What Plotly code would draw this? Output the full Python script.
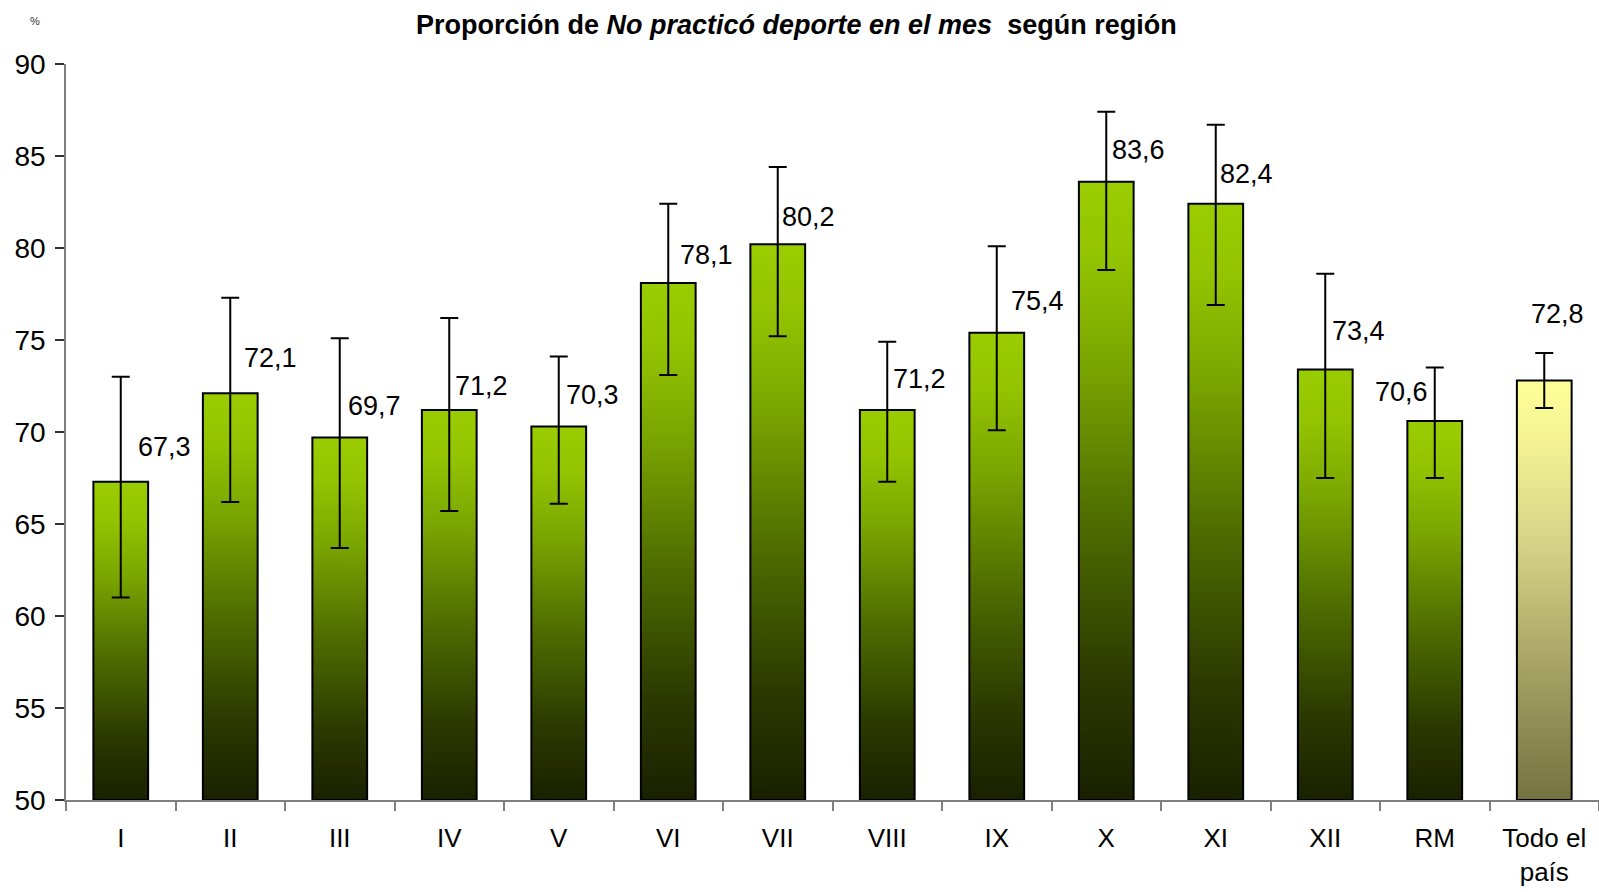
import plotly.graph_objects as go

# data (percent, with asymmetric confidence limits)
REGIONS = ["I", "II", "III", "IV", "V", "VI", "VII", "VIII", "IX", "X", "XI", "XII", "RM", "Todo el<br>país"]
VALUES = [67.3, 72.1, 69.7, 71.2, 70.3, 78.1, 80.2, 71.2, 75.4, 83.6, 82.4, 73.4, 70.6, 72.8]
UPPER = [73.0, 77.3, 75.1, 76.2, 74.1, 82.4, 84.4, 74.9, 80.1, 87.4, 86.7, 78.6, 73.5, 74.3]
LOWER = [61.0, 66.2, 63.7, 65.7, 66.1, 73.1, 75.2, 67.3, 70.1, 78.8, 76.9, 67.5, 67.5, 71.3]
BASE = 50

# label placement (style only): vertical centre in axis units, horizontal shift in px
LABEL_Y = [69.2, 74.0, 71.4, 72.5, 72.0, 79.6, 81.7, 72.9, 77.1, 85.3, 84.0, 75.5, 72.2, 76.4]
LABEL_DX = [15, 12, 6, 4, 5, 10, 2, 4, 12, 4, 2, 5, -5, 13]
LABEL_ANCHOR = ["left"] * 12 + ["right", "center"]

FONT = "Liberation Sans, Arial, sans-serif"
GREEN = [[0, "#1a2000"], [0.2, "#2c3a00"], [0.45, "#4e6c00"], [0.7, "#79a500"], [0.88, "#93c400"], [1, "#9acd00"]]
YELLOW = [[0, "#74733f"], [0.3, "#a3a063"], [0.6, "#d4d186"], [0.85, "#f4f294"], [1, "#ffff99"]]
HALF = 0.25
W, H, L, T, B = 1599, 892, 66, 64, 92
PW, PH = W - L, H - T - B

fig = go.Figure()
n = len(VALUES)
idx = list(range(n))

# transparent bars (hover), gradient bodies drawn on top as filled outlines
fig.add_trace(go.Bar(
    x=idx, y=[v - BASE for v in VALUES], base=BASE, width=2 * HALF,
    marker=dict(color="rgba(0,0,0,0)", line=dict(width=0)),
    hovertemplate="%{customdata}<extra></extra>",
    customdata=[f"{v:.1f}".replace(".", ",") for v in VALUES], showlegend=False))

for i, v in enumerate(VALUES):
    scale = YELLOW if i == n - 1 else GREEN
    fig.add_trace(go.Scatter(
        x=[i - HALF, i + HALF, i + HALF, i - HALF, i - HALF],
        y=[BASE, BASE, v, v, BASE], mode="lines", line=dict(width=2, color="black"),
        fill="toself", fillgradient=dict(type="vertical", colorscale=scale),
        hoverinfo="skip", showlegend=False))

# confidence intervals
fig.add_trace(go.Scatter(
    x=idx, y=VALUES, mode="markers", marker=dict(size=1, color="rgba(0,0,0,0)"),
    error_y=dict(type="data", symmetric=False,
                 array=[u - v for u, v in zip(UPPER, VALUES)],
                 arrayminus=[v - l for v, l in zip(VALUES, LOWER)],
                 color="black", thickness=2, width=9),
    hoverinfo="skip", showlegend=False))

for i, v in enumerate(VALUES):
    fig.add_annotation(x=i, y=LABEL_Y[i], text=f"{v:.1f}".replace(".", ","), showarrow=False,
                       xanchor=LABEL_ANCHOR[i], yanchor="middle", xshift=LABEL_DX[i],
                       font=dict(size=27, color="black", family=FONT))

# title and unit mark, positioned in page pixels
fig.add_annotation(x=(796 - L) / PW, y=1 + (T - 25) / PH, xref="paper", yref="paper", yanchor="middle",
                   text="<b>Proporción de <i>No practicó deporte en el mes</i>  según región</b>",
                   showarrow=False, font=dict(size=27, color="black", family=FONT))
fig.add_annotation(x=(28 - L) / PW, y=1 + (T - 13) / PH, xref="paper", yref="paper", text="%",
                   showarrow=False, font=dict(size=11, color="#333", family=FONT))

fig.update_layout(
    width=W, height=H, paper_bgcolor="white", plot_bgcolor="white",
    margin=dict(l=L, r=0, t=T, b=B), barmode="overlay",
    font=dict(family=FONT, color="black", size=26))
fig.update_xaxes(range=[-0.5, n - 0.5], tickmode="array", tickvals=idx, ticktext=REGIONS,
                 ticks="", showline=True, linecolor="#808080", linewidth=1.5, showgrid=False,
                 zeroline=False, ticklabelstandoff=14, tickfont=dict(size=26),
                 minor=dict(tickmode="array", tickvals=[i - 0.5 for i in range(n + 1)],
                            ticks="outside", ticklen=9, tickcolor="#808080", tickwidth=1.5))
fig.update_yaxes(range=[50, 90], dtick=5, ticks="outside", ticklen=9, tickcolor="#333", tickwidth=1.5,
                 showline=True, linecolor="#808080", linewidth=1.5, showgrid=False, zeroline=False,
                 ticklabelstandoff=4, tickfont=dict(size=28))

fig.write_html("out.html", config={"displayModeBar": False},
               post_script="document.body.style.margin='0';")
